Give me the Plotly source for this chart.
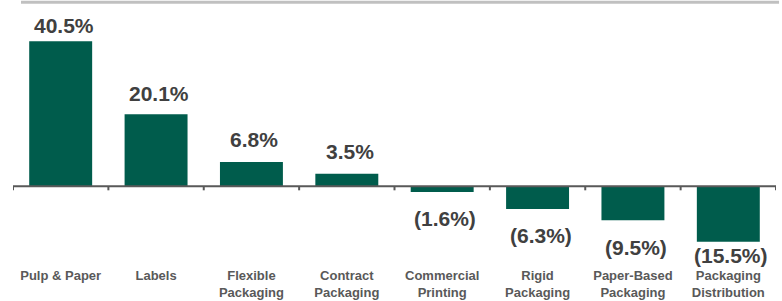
import plotly.graph_objects as go

categories = ["Pulp & Paper", "Labels", "Flexible<br>Packaging", "Contract<br>Packaging",
              "Commercial<br>Printing", "Rigid<br>Packaging", "Paper-Based<br>Packaging",
              "Packaging<br>Distribution"]
values = [40.5, 20.1, 6.8, 3.5, -1.6, -6.3, -9.5, -15.5]
value_labels = ["40.5%", "20.1%", "6.8%", "3.5%", "(1.6%)", "(6.3%)", "(9.5%)", "(15.5%)"]
label_shift = [16, 21, 22, 22, -26, -27, -27, -14]

BAR = "#005C4C"
FONT = "Liberation Sans, Arial"
fig = go.Figure()
fig.add_trace(go.Bar(x=list(range(len(categories))), y=values, marker_color=BAR,
                     marker_line_width=0, width=0.66, hoverinfo="skip"))

for i, (v, t, s) in enumerate(zip(values, value_labels, label_shift)):
    fig.add_annotation(x=i, y=v, text=f"<b>{t}</b>", showarrow=False, yanchor="middle",
                       yshift=s, xshift=3,
                       font=dict(family=FONT, size=21, color="#404040"))

n = len(categories)
fig.add_shape(type="line", x0=-0.5, x1=n - 0.5, y0=0, y1=0, xref="x", yref="y",
              line=dict(color="#595959", width=2))
for i in range(n + 1):
    fig.add_shape(type="line", x0=i - 0.5, x1=i - 0.5, xref="x", yref="y",
                  ysizemode="pixel", yanchor=0, y0=0, y1=-4,
                  line=dict(color="#595959", width=2))
fig.add_shape(type="line", xref="paper", yref="paper", x0=0.0105, x1=1.004,
              y0=1.098, y1=1.098, line=dict(color="#C0C0C0", width=3))

fig.update_layout(
    width=782, height=301,
    margin=dict(l=13, r=6, t=25, b=43, autoexpand=False),
    paper_bgcolor="white", plot_bgcolor="white",
    showlegend=False,
    xaxis=dict(range=[-0.5, n - 0.5], tickmode="array", tickvals=list(range(n)),
               ticktext=[f"<b>{c}</b>" for c in categories], showgrid=False, zeroline=False,
               showline=False, ticks="", automargin=False, ticklabelstandoff=8,
               tickfont=dict(family=FONT, size=13, color="#595959")),
    yaxis=dict(range=[-20, 45], visible=False, showgrid=False, zeroline=False, automargin=False),
)

fig.write_html("out.html", config={"displayModeBar": False},
               post_script="document.body.style.margin='0';document.body.style.overflow='hidden';")
